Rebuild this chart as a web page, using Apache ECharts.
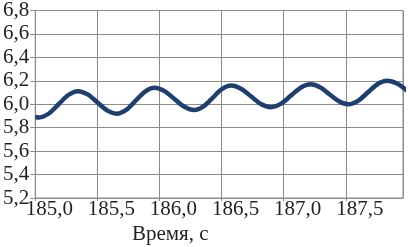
<!DOCTYPE html>
<html>
<head>
<meta charset="utf-8">
<script src="https://cdn.jsdelivr.net/npm/echarts@6/dist/echarts.min.js"></script>
<style>
html,body{margin:0;padding:0;background:#fff;}
#chart{width:408px;height:247px;}
</style>
</head>
<body>
<div id="chart"></div>
<script>
const timeValues = [185.0, 185.032, 185.11, 185.188, 185.266, 185.344, 185.422, 185.50, 185.578, 185.656, 185.732, 185.808, 185.884, 185.96, 186.04, 186.12, 186.20, 186.28, 186.354, 186.428, 186.502, 186.576, 186.656, 186.736, 186.816, 186.896, 186.976, 187.056, 187.136, 187.216, 187.292, 187.368, 187.444, 187.52, 187.598, 187.676, 187.754, 187.832, 187.916, 188.0];
const signalValues = [5.892, 5.888, 5.921, 6.0, 6.079, 6.112, 6.084, 6.016, 5.948, 5.92, 5.952, 6.03, 6.108, 6.14, 6.112, 6.045, 5.978, 5.95, 5.981, 6.055, 6.129, 6.16, 6.133, 6.068, 6.002, 5.975, 6.003, 6.072, 6.141, 6.17, 6.145, 6.085, 6.025, 6.0, 6.029, 6.10, 6.171, 6.2, 6.174, 6.11];
const xTicks = [185.0, 185.5, 186.0, 186.5, 187.0, 187.5];
const yTicks = [5.2, 5.4, 5.6, 5.8, 6.0, 6.2, 6.4, 6.6, 6.8];
const xAxisTitle = 'Время, с';

const fontFamily = "'Times New Roman', 'Liberation Serif', 'DejaVu Serif', serif";
const textColor = '#231f20';
const gridColor = '#8c8c8c';

const chart = echarts.init(document.getElementById('chart'), null, {renderer: 'canvas'});
const fmt = v => v.toFixed(1).replace('.', ',');
chart.setOption({
  animation: false,
  textStyle: {fontFamily},
  title: {
    text: xAxisTitle,
    left: 132,
    top: 224,
    padding: 0,
    textStyle: {fontFamily, fontSize: 21, fontWeight: 'normal', color: textColor}
  },
  grid: {left: 33, top: 6, right: 5, bottom: 49, show: true, borderColor: gridColor, borderWidth: 1},
  xAxis: {
    type: 'value',
    min: xTicks[0],
    max: 187.96,
    interval: 0.5,
    axisLine: {lineStyle: {color: gridColor, width: 1}},
    axisTick: {show: true, length: 3, lineStyle: {color: gridColor}},
    splitLine: {show: true, lineStyle: {color: gridColor, width: 1}},
    axisLabel: {
      showMaxLabel: false,
      margin: 1,
      fontFamily, fontSize: 21, color: textColor,
      padding: [0, 0, 0, 28],
      formatter: v => xTicks.some(t => Math.abs(t - v) < 1e-6) ? fmt(v) : ''
    }
  },
  yAxis: {
    type: 'value',
    min: yTicks[0],
    max: yTicks[yTicks.length - 1],
    interval: 0.2,
    axisLine: {show: true, lineStyle: {color: gridColor, width: 1}},
    axisTick: {show: true, length: 5, lineStyle: {color: gridColor}},
    splitLine: {show: true, lineStyle: {color: gridColor, width: 1}},
    axisLabel: {margin: 6, fontFamily, fontSize: 21, color: textColor, formatter: fmt}
  },
  series: [{
    type: 'line',
    data: timeValues.map((t, i) => [t, signalValues[i]]),
    smooth: 0.3,
    showSymbol: false,
    clip: false,
    lineStyle: {color: '#1e3f6f', width: 4.5}
  }]
});
</script>
</body>
</html>
